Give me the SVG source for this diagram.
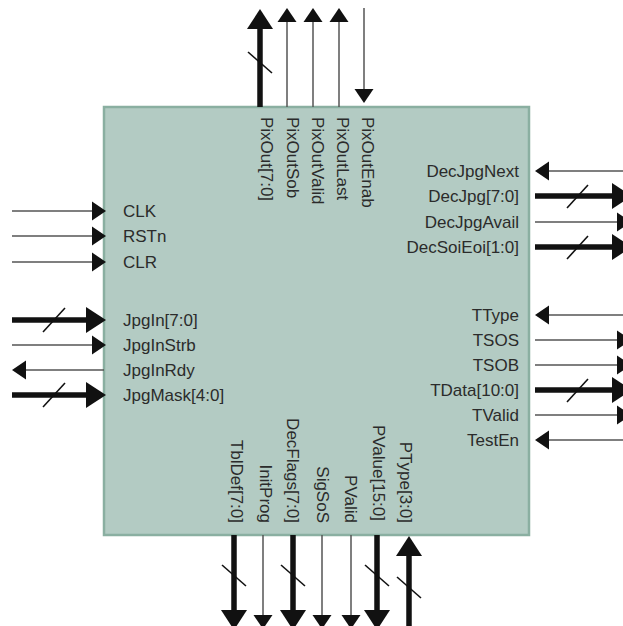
<svg xmlns="http://www.w3.org/2000/svg" width="623" height="626" viewBox="0 0 623 626">
<style>
.lbl{font-family:"Liberation Sans",Arial,sans-serif;font-size:17px;fill:#2b2b2b}
.r{text-anchor:end}
.thin{stroke:#555;stroke-width:1.5;fill:none}
.thick{stroke:#111;stroke-width:5.5;fill:none}
.sl{stroke:#111;stroke-width:1.6;fill:none}
.box{fill:#b3cbc3;stroke:#8aafa1;stroke-width:2.5}
</style>
<defs>
<marker id="ah" markerUnits="userSpaceOnUse" markerWidth="16" markerHeight="22" refX="0" refY="10" orient="auto" overflow="visible">
<path d="M0,0.5 L14,10 L0,19.5 Z" fill="#111"/>
</marker>
<marker id="AH" markerUnits="userSpaceOnUse" markerWidth="22" markerHeight="28" refX="0" refY="13" orient="auto" overflow="visible">
<path d="M0,0 L20,13 L0,26 Z" fill="#111"/>
</marker>
</defs>
<rect width="623" height="626" fill="#fff"/>
<g id="block">
<rect class="box" x="104" y="107" width="425" height="428"/>
</g>
<g id="connectors">
<!-- top -->
<line class="thick" x1="260" y1="107" x2="260" y2="29" marker-end="url(#AH)"/>
<line class="sl" x1="248" y1="52" x2="272" y2="73"/>
<line class="thin" x1="287" y1="107" x2="287" y2="22" marker-end="url(#ah)"/>
<line class="thin" x1="313" y1="107" x2="313" y2="22" marker-end="url(#ah)"/>
<line class="thin" x1="339" y1="107" x2="339" y2="22" marker-end="url(#ah)"/>
<line class="thin" x1="364" y1="8" x2="364" y2="89" marker-end="url(#ah)"/>
<!-- left -->
<line class="thin" x1="12" y1="211" x2="92" y2="211" marker-end="url(#ah)"/>
<line class="thin" x1="12" y1="236" x2="92" y2="236" marker-end="url(#ah)"/>
<line class="thin" x1="12" y1="262" x2="92" y2="262" marker-end="url(#ah)"/>
<line class="thick" x1="12" y1="320" x2="86" y2="320" marker-end="url(#AH)"/>
<line class="sl" x1="43" y1="332" x2="65" y2="308"/>
<line class="thin" x1="12" y1="345" x2="92" y2="345" marker-end="url(#ah)"/>
<line class="thin" x1="104" y1="370" x2="26" y2="370" marker-end="url(#ah)"/>
<line class="thick" x1="12" y1="395" x2="86" y2="395" marker-end="url(#AH)"/>
<line class="sl" x1="43" y1="407" x2="65" y2="383"/>
<!-- right -->
<line class="thin" x1="623" y1="171" x2="549" y2="171" marker-end="url(#ah)"/>
<line class="thick" x1="535" y1="196" x2="612" y2="196" marker-end="url(#AH)"/>
<line class="sl" x1="567" y1="208" x2="588" y2="185"/>
<line class="thin" x1="535" y1="222" x2="617" y2="222" marker-end="url(#ah)"/>
<line class="thick" x1="535" y1="247" x2="612" y2="247" marker-end="url(#AH)"/>
<line class="sl" x1="567" y1="259" x2="588" y2="236"/>
<line class="thin" x1="623" y1="315" x2="549" y2="315" marker-end="url(#ah)"/>
<line class="thin" x1="535" y1="340" x2="617" y2="340" marker-end="url(#ah)"/>
<line class="thin" x1="535" y1="365" x2="617" y2="365" marker-end="url(#ah)"/>
<line class="thick" x1="535" y1="390" x2="612" y2="390" marker-end="url(#AH)"/>
<line class="sl" x1="567" y1="402" x2="588" y2="379"/>
<line class="thin" x1="535" y1="415" x2="617" y2="415" marker-end="url(#ah)"/>
<line class="thin" x1="623" y1="440" x2="549" y2="440" marker-end="url(#ah)"/>
<!-- bottom -->
<line class="thick" x1="234" y1="535" x2="234" y2="610" marker-end="url(#AH)"/>
<line class="sl" x1="222" y1="565" x2="246" y2="586"/>
<line class="thin" x1="263" y1="535" x2="263" y2="615" marker-end="url(#ah)"/>
<line class="thick" x1="293" y1="535" x2="293" y2="610" marker-end="url(#AH)"/>
<line class="sl" x1="281" y1="565" x2="305" y2="586"/>
<line class="thin" x1="322" y1="535" x2="322" y2="615" marker-end="url(#ah)"/>
<line class="thin" x1="351" y1="535" x2="351" y2="615" marker-end="url(#ah)"/>
<line class="thick" x1="377" y1="535" x2="377" y2="610" marker-end="url(#AH)"/>
<line class="sl" x1="365" y1="565" x2="389" y2="586"/>
<line class="thick" x1="409" y1="626" x2="409" y2="556" marker-end="url(#AH)"/>
<line class="sl" x1="397" y1="577" x2="421" y2="598"/>
</g>
<g id="labels-top">
<text class="lbl" transform="translate(261,117) rotate(90)">PixOut[7:0]</text>
<text class="lbl" transform="translate(287,117) rotate(90)">PixOutSob</text>
<text class="lbl" transform="translate(312,117) rotate(90)">PixOutValid</text>
<text class="lbl" transform="translate(337,117) rotate(90)">PixOutLast</text>
<text class="lbl" transform="translate(362,117) rotate(90)">PixOutEnab</text>
</g>
<g id="labels-left">
<text class="lbl" x="123" y="217">CLK</text>
<text class="lbl" x="123" y="242">RSTn</text>
<text class="lbl" x="123" y="268">CLR</text>
<text class="lbl" x="123" y="326">JpgIn[7:0]</text>
<text class="lbl" x="123" y="351">JpgInStrb</text>
<text class="lbl" x="123" y="376">JpgInRdy</text>
<text class="lbl" x="123" y="401">JpgMask[4:0]</text>
</g>
<g id="labels-right">
<text class="lbl r" x="519" y="177">DecJpgNext</text>
<text class="lbl r" x="519" y="202">DecJpg[7:0]</text>
<text class="lbl r" x="519" y="228">DecJpgAvail</text>
<text class="lbl r" x="519" y="253">DecSoiEoi[1:0]</text>
<text class="lbl r" x="519" y="321">TType</text>
<text class="lbl r" x="519" y="346">TSOS</text>
<text class="lbl r" x="519" y="371">TSOB</text>
<text class="lbl r" x="519" y="396">TData[10:0]</text>
<text class="lbl r" x="519" y="421">TValid</text>
<text class="lbl r" x="519" y="446">TestEn</text>
</g>
<g id="labels-bottom">
<text class="lbl r" transform="translate(231,523) rotate(90)">TblDef[7:0]</text>
<text class="lbl r" transform="translate(260,523) rotate(90)">InitProg</text>
<text class="lbl r" transform="translate(287,523) rotate(90)">DecFlags[7:0]</text>
<text class="lbl r" transform="translate(317,523) rotate(90)">SigSoS</text>
<text class="lbl r" transform="translate(345,523) rotate(90)">PValid</text>
<text class="lbl r" transform="translate(373,521) rotate(90)">PValue[15:0]</text>
<text class="lbl r" transform="translate(400,523) rotate(90)">PType[3:0]</text>
</g>
</svg>
